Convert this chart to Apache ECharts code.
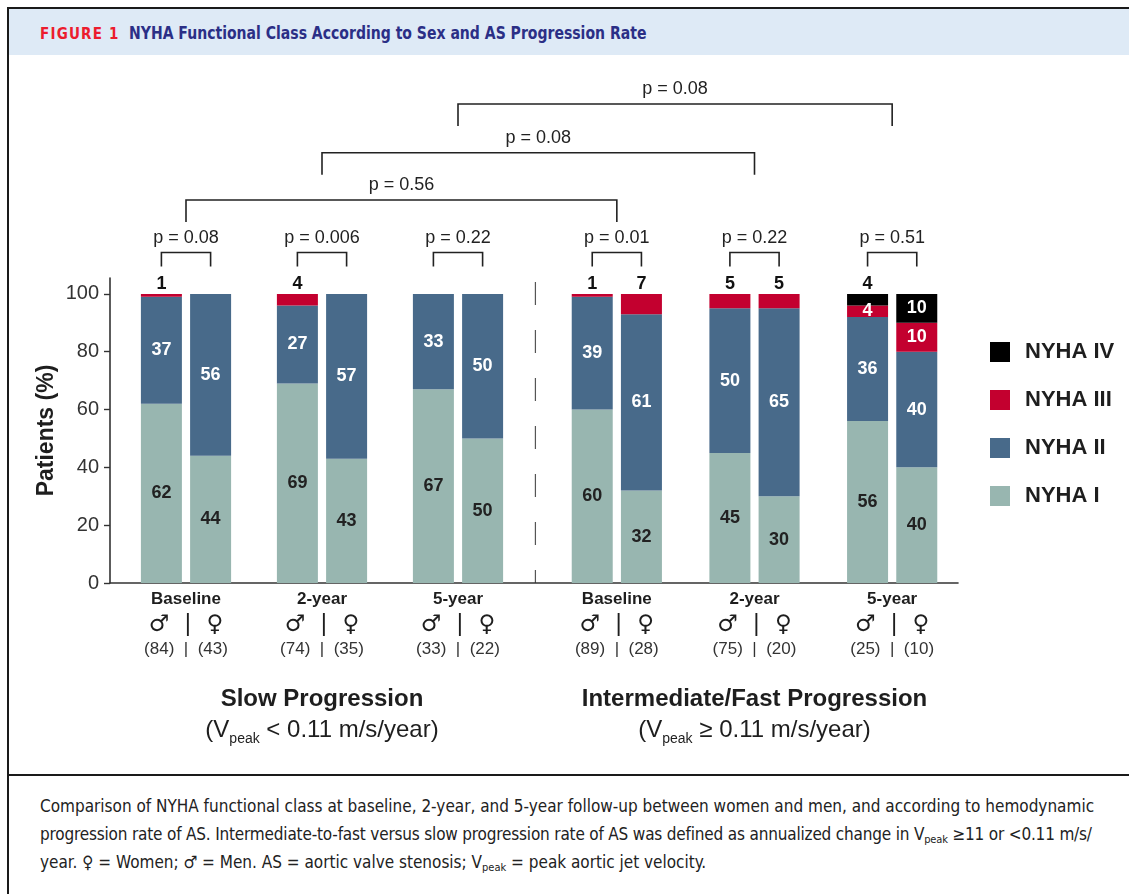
<!DOCTYPE html>
<html>
<head>
<meta charset="utf-8">
<script src="https://cdn.jsdelivr.net/npm/echarts@6/dist/echarts.min.js"></script>
<style>
  html, body { margin: 0; padding: 0; background: #fff; width: 1129px; height: 894px; overflow: hidden; }
  #frame { position: absolute; left: 7px; top: 7px; width: 1120px; height: 885px; border-left: 2px solid #1a1a1a; border-top: 2px solid #1a1a1a; }
  #head { position: absolute; left: 9px; top: 9px; width: 1120px; height: 46px; background: #deeaf6; }
  #head .t { position: absolute; left: 31px; top: 0; line-height: 48px; white-space: nowrap;
             font-family: "Liberation Sans Narrow", "DejaVu Sans Condensed", sans-serif; font-weight: bold;
             font-size: 17px; color: #2b2f86; }
  #head .fig { color: #ec1c2e; letter-spacing: 1.2px; margin-right: 9px; font-size: 15px; }
  #head .ttl { display: inline-block; transform: scaleX(0.917); transform-origin: left center; }
  #chart { position: absolute; left: 0; top: 55px; width: 1129px; height: 720px; }
  #rule { position: absolute; left: 9px; width: 1120px; top: 774px; height: 2px; background: #1a1a1a; }
  #cap { position: absolute; left: 40px; top: 792px; white-space: nowrap; color: #222;
         font-family: "Liberation Sans Narrow", "DejaVu Sans Condensed", sans-serif; font-size: 17px; line-height: 28px; }
  #cap sub { font-size: 11px; vertical-align: -3px; line-height: 0; }
  #cap .tight { letter-spacing: -0.18px; }
</style>
</head>
<body>
<div id="frame"></div>
<div id="head"><div class="t"><span class="fig">FIGURE 1</span><span class="ttl">NYHA Functional Class According to Sex and AS Progression Rate</span></div></div>
<div id="chart"></div>
<div id="rule"></div>
<div id="cap">Comparison of NYHA functional class at baseline, 2-year, and 5-year follow-up between women and men, and according to hemodynamic<br><span class="tight">progression rate of AS. Intermediate-to-fast versus slow progression rate of AS was defined as annualized change in V<sub>peak</sub> ≥11 or &lt;0.11 m/s/</span><br>year. ♀ = Women; ♂ = Men. AS = aortic valve stenosis; V<sub>peak</sub> = peak aortic jet velocity.</div>

<script>
// ---- data: percent of patients in each NYHA class ----
const timepoints = ['Baseline', '2-year', '5-year'];
const nyhaClasses = ['NYHA I', 'NYHA II', 'NYHA III', 'NYHA IV'];

// Slow progression (Vpeak < 0.11 m/s/year)
const slowMenI     = [62, 69, 67];
const slowMenII    = [37, 27, 33];
const slowMenIII   = [1, 4, 0];
const slowMenIV    = [0, 0, 0];
const slowWomenI   = [44, 43, 50];
const slowWomenII  = [56, 57, 50];
const slowWomenIII = [0, 0, 0];
const slowWomenIV  = [0, 0, 0];

// Intermediate/fast progression (Vpeak >= 0.11 m/s/year)
const fastMenI     = [60, 45, 56];
const fastMenII    = [39, 50, 36];
const fastMenIII   = [1, 5, 4];
const fastMenIV    = [0, 0, 4];
const fastWomenI   = [32, 30, 40];
const fastWomenII  = [61, 65, 40];
const fastWomenIII = [7, 5, 10];
const fastWomenIV  = [0, 0, 10];

// patient counts
const slowMenN   = [84, 74, 33];
const slowWomenN = [43, 35, 22];
const fastMenN   = [89, 75, 25];
const fastWomenN = [28, 20, 10];

// p values: men vs women within each group, and slow vs fast at each timepoint
const slowSexP    = ['0.08', '0.006', '0.22'];
const fastSexP    = ['0.01', '0.22', '0.51'];
const slowVsFastP = ['0.56', '0.08', '0.08'];

const yTicks = [0, 20, 40, 60, 80, 100];

// ---- styling ----
const FONT = '"Liberation Sans", Arial, sans-serif';
const colors = { 'NYHA I': '#98b6b0', 'NYHA II': '#486a8a', 'NYHA III': '#c3002f', 'NYHA IV': '#000000' };
const INK = '#1e1e1e';

const groups = [
  { title: 'Slow Progression', rel: '<', men: [slowMenI, slowMenII, slowMenIII, slowMenIV],
    women: [slowWomenI, slowWomenII, slowWomenIII, slowWomenIV], menN: slowMenN, womenN: slowWomenN },
  { title: 'Intermediate/Fast Progression', rel: '≥', men: [fastMenI, fastMenII, fastMenIII, fastMenIV],
    women: [fastWomenI, fastWomenII, fastWomenIII, fastWomenIV], menN: fastMenN, womenN: fastWomenN }
];

const gridTop = 223, gridBottom = 192;
const grids = [
  { left: 118, width: 408, top: gridTop, bottom: gridBottom },
  { left: 548, width: 413, top: gridTop, bottom: gridBottom },
  { left: 110, width: 848, top: gridTop, bottom: gridBottom }   // carries the shared baseline
];

// label placement: small topmost segments get their number above the bar
function segmentLabel(k, stackVals, i) {
  const v = stackVals[k][i];
  if (!v) return { show: false };
  let above = 0;
  for (let j = k + 1; j < stackVals.length; j++) above += stackVals[j][i];
  if (above === 0 && v < 8) {
    return { show: true, position: 'top', distance: 1, color: '#111', fontSize: 18, fontWeight: 'bold', fontFamily: FONT };
  }
  return { show: true, position: 'inside', color: k === 0 ? '#222' : '#fff', fontSize: 18, fontWeight: 'bold', fontFamily: FONT };
}

const series = [];
const firstSeriesOf = [];   // [group][sex] -> series index
groups.forEach((g, gi) => {
  firstSeriesOf[gi] = [];
  [['M', g.men], ['F', g.women]].forEach(([sex, vals], si) => {
    firstSeriesOf[gi][si] = series.length;
    nyhaClasses.forEach((cls, k) => {
      series.push({
        name: cls, type: 'bar', xAxisIndex: gi, yAxisIndex: gi, stack: 'g' + gi + sex,
        barWidth: 41, barGap: '20%',
        itemStyle: { color: colors[cls] },
        label: { formatter: p => p.value ? String(p.value) : '' },
        data: vals[k].map((v, i) => ({ value: v, label: segmentLabel(k, vals, i) }))
      });
    });
  });
});

const xAxes = groups.map((g, gi) => ({
  type: 'category', gridIndex: gi, data: timepoints,
  axisLine: { show: false }, axisTick: { show: false },
  axisLabel: {
    margin: 3, interval: 0,
    formatter: (val, idx) => `{c|${val}}\n{s|♂  |  ♀}\n{n|(${g.menN[idx]})  |  (${g.womenN[idx]})}`,
    rich: {
      c: { fontSize: 17, fontWeight: 'bold', color: INK, lineHeight: 26, fontFamily: FONT },
      s: { fontSize: 23, color: INK, lineHeight: 26, fontFamily: '"DejaVu Sans", sans-serif' },
      n: { fontSize: 17, color: '#333', lineHeight: 23, fontFamily: FONT }
    }
  },
  name: `{t|${g.title}}\n{v|(V}{sub|peak}{v| ${g.rel} 0.11 m/s/year)}`,
  nameLocation: 'middle', nameGap: 101,
  nameTextStyle: {
    rich: {
      t: { fontSize: 24, fontWeight: 'bold', color: INK, lineHeight: 31, fontFamily: FONT },
      v: { fontSize: 24, color: INK, lineHeight: 31, fontFamily: FONT },
      sub: { fontSize: 14, color: INK, lineHeight: 8, verticalAlign: 'bottom', fontFamily: FONT }
    }
  }
}));
xAxes.push({
  type: 'value', gridIndex: 2, min: 0, max: 1,
  axisLine: { show: true, lineStyle: { color: '#333', width: 1.6 } },
  axisTick: { show: false }, axisLabel: { show: false }, splitLine: { show: false }
});

const yAxes = [
  {
    type: 'value', gridIndex: 0, min: 0, max: 105.5, interval: 20, offset: 8,
    axisLine: { show: true, lineStyle: { color: '#333', width: 1.6 } },
    axisTick: { show: true, length: 6, customValues: yTicks, lineStyle: { color: '#333', width: 1.4 } },
    axisLabel: { customValues: yTicks, margin: 11, fontSize: 20, color: '#333', fontFamily: FONT,
                 formatter: v => (v % 20 === 0 ? String(v) : '') },
    splitLine: { show: false },
    name: 'Patients (%)', nameLocation: 'middle', nameGap: 52,
    nameTextStyle: { fontSize: 23, fontWeight: 'bold', color: INK, fontFamily: FONT }
  },
  { type: 'value', gridIndex: 1, min: 0, max: 105.5, interval: 20, show: false },
  { type: 'value', gridIndex: 2, min: 0, max: 105.5, show: false }
];

const chart = echarts.init(document.getElementById('chart'), null, { renderer: 'canvas' });
chart.setOption({
  animation: false,
  textStyle: { fontFamily: FONT },
  grid: grids,
  xAxis: xAxes,
  yAxis: yAxes,
  legend: {
    data: ['NYHA IV', 'NYHA III', 'NYHA II', 'NYHA I'],
    orient: 'vertical', left: 990, top: 286, padding: 0, itemWidth: 20, itemHeight: 20, itemGap: 26,
    icon: 'rect', selectedMode: false,
    textStyle: { fontSize: 22, fontWeight: 'bold', color: INK, fontFamily: FONT, padding: [0, 0, 0, 10] }
  },
  series: series
});

// ---- significance brackets and group divider, placed from the rendered bars ----
function barLayout(seriesIdx, dataIdx) {
  return chart.getModel().getSeriesByIndex(seriesIdx).getData().getItemLayout(dataIdx);
}
function barCenter(seriesIdx, dataIdx) {
  const lay = barLayout(seriesIdx, dataIdx);
  return lay.x + lay.width / 2;
}
const yPx = v => chart.convertToPixel({ yAxisIndex: 0 }, v);

function bracket(x1, x2, level, legPx, text) {
  const y = yPx(level);
  return [
    { type: 'polyline', silent: true,
      shape: { points: [[x1, y + legPx], [x1, y], [x2, y], [x2, y + legPx]] },
      style: { stroke: '#222', lineWidth: 1.6, fill: null } },
    { type: 'text', silent: true, x: (x1 + x2) / 2, y: y - 6,
      style: { text: text, fill: '#222', font: '18px ' + FONT, align: 'center', verticalAlign: 'bottom' } }
  ];
}

const graphics = [];
// men vs women within each timepoint
[slowSexP, fastSexP].forEach((pv, gi) => {
  pv.forEach((p, i) => {
    const xm = barCenter(firstSeriesOf[gi][0], i);
    const xf = barCenter(firstSeriesOf[gi][1], i);
    graphics.push(...bracket(xm, xf, 114.3, 14, 'p = ' + p));
  });
});
// slow vs intermediate/fast at each timepoint
const crossLevels = [132.5, 148.8, 165.7];
slowVsFastP.forEach((p, i) => {
  const xl = chart.convertToPixel({ xAxisIndex: 0 }, timepoints[i]);
  const xr = chart.convertToPixel({ xAxisIndex: 1 }, timepoints[i]);
  graphics.push(...bracket(xl, xr, crossLevels[i], 22, 'p = ' + p));
});
// dashed divider between the two progression groups
const lastSlow = barLayout(firstSeriesOf[0][1], 2);
const firstFast = barLayout(firstSeriesOf[1][0], 0);
const xDiv = (lastSlow.x + lastSlow.width + firstFast.x) / 2 - 2;
graphics.push({
  type: 'line', silent: true,
  shape: { x1: xDiv, y1: yPx(100) - 12, x2: xDiv, y2: yPx(0) },
  style: { stroke: '#555', lineWidth: 1.2, lineDash: [23, 25] }
});
chart.setOption({ graphic: graphics });
</script>
</body>
</html>
